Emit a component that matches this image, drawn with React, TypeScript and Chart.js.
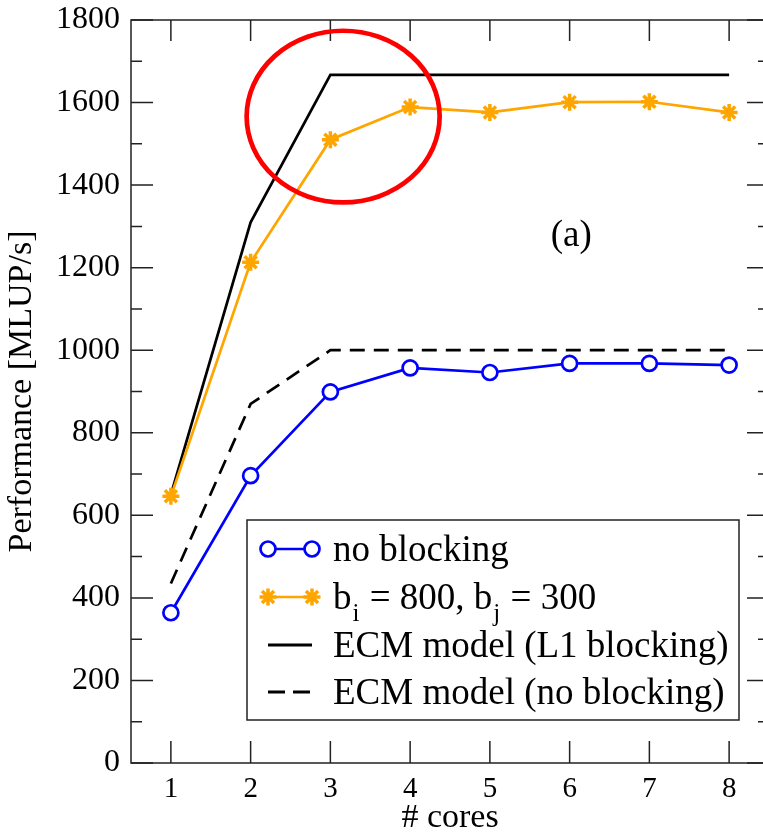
import React, { useEffect, useRef } from 'react';
import { Chart, registerables } from 'chart.js';

Chart.register(...registerables);

const cores = [1, 2, 3, 4, 5, 6, 7, 8];
const noBlocking = [364, 696, 899, 957, 946, 968, 968, 964];
const blocked = [646, 1213, 1510, 1589, 1576, 1601, 1602, 1576];
const ecmL1 = [650, 1310, 1667, 1667, 1667, 1667, 1667, 1667];
const ecmNoBlocking = [435, 870, 1000, 1000, 1000, 1000, 1000, 1000];
const yMajorTicks = [0, 200, 400, 600, 800, 1000, 1200, 1400, 1600, 1800];
const yMinorTicks = [100, 300, 500, 700, 900, 1100, 1300, 1500, 1700];
const seriesLabels = ['no blocking', 'b_i = 800, b_j = 300', 'ECM model (L1 blocking)', 'ECM model (no blocking)'];
const xTitle = '# cores';
const yTitle = 'Performance [MLUP/s]';
const panelLabel = '(a)';
const panelLabelAt = { x: 6.02, y: 1277 };
const highlight = { cx: 3.16, cy: 1566, rx: 1.21, ry: 208 };

const SERIF = '"Liberation Serif", "Times New Roman", serif';
const BLUE = '#0000ff';
const ORANGE = '#ffa500';
const BLACK = '#000000';
const AXIS = '#222222';

function drawStar(ctx: CanvasRenderingContext2D, x: number, y: number, r: number, color: string, w: number) {
  ctx.save();
  ctx.strokeStyle = color;
  ctx.lineWidth = w;
  ctx.beginPath();
  for (let i = 0; i < 4; i++) {
    const a = (i * Math.PI) / 4;
    ctx.moveTo(x - Math.cos(a) * r, y - Math.sin(a) * r);
    ctx.lineTo(x + Math.cos(a) * r, y + Math.sin(a) * r);
  }
  ctx.stroke();
  ctx.restore();
}

function drawCircle(ctx: CanvasRenderingContext2D, x: number, y: number, r: number, color: string, w: number) {
  ctx.save();
  ctx.fillStyle = '#ffffff';
  ctx.strokeStyle = color;
  ctx.lineWidth = w;
  ctx.beginPath();
  ctx.arc(x, y, r, 0, Math.PI * 2);
  ctx.fill();
  ctx.stroke();
  ctx.restore();
}

const decorPlugin = {
  id: 'decor',
  afterDraw(chart: any) {
    const { ctx, chartArea, scales } = chart;
    const xs = scales.x;
    const ys = scales.y;
    const { left, right, top, bottom } = chartArea;
    ctx.save();
    // frame
    ctx.strokeStyle = AXIS;
    ctx.lineWidth = 1.5;
    ctx.beginPath();
    ctx.rect(left, top, right - left, bottom - top);
    ctx.stroke();
    // inward ticks
    ctx.beginPath();
    yMajorTicks.forEach((v) => {
      const py = ys.getPixelForValue(v);
      ctx.moveTo(left, py); ctx.lineTo(left + 22, py);
      ctx.moveTo(right, py); ctx.lineTo(right - 22, py);
    });
    yMinorTicks.forEach((v) => {
      const py = ys.getPixelForValue(v);
      ctx.moveTo(left, py); ctx.lineTo(left + 11, py);
      ctx.moveTo(right, py); ctx.lineTo(right - 11, py);
    });
    cores.forEach((v) => {
      const px = xs.getPixelForValue(v);
      ctx.moveTo(px, bottom); ctx.lineTo(px, bottom - 22);
      ctx.moveTo(px, top); ctx.lineTo(px, top + 21);
    });
    ctx.stroke();

    // panel label
    ctx.fillStyle = BLACK;
    ctx.font = '37px ' + SERIF;
    ctx.textAlign = 'center';
    ctx.textBaseline = 'middle';
    ctx.fillText(panelLabel, xs.getPixelForValue(panelLabelAt.x), ys.getPixelForValue(panelLabelAt.y));

    // legend
    const bx = 247, by = 520, bw = 492, bh = 200;
    ctx.fillStyle = '#ffffff';
    ctx.fillRect(bx, by, bw, bh);
    ctx.strokeStyle = AXIS;
    ctx.lineWidth = 1.5;
    ctx.strokeRect(bx, by, bw, bh);
    const rows = [549, 597, 645, 692];
    const sx0 = 268, sx1 = 312, tx = 333;
    // row 1
    ctx.strokeStyle = BLUE; ctx.lineWidth = 2.7; ctx.setLineDash([]);
    ctx.beginPath(); ctx.moveTo(sx0, rows[0]); ctx.lineTo(sx1, rows[0]); ctx.stroke();
    drawCircle(ctx, sx0, rows[0], 7.5, BLUE, 2.7);
    drawCircle(ctx, sx1, rows[0], 7.5, BLUE, 2.7);
    // row 2
    ctx.strokeStyle = ORANGE; ctx.lineWidth = 2.7;
    ctx.beginPath(); ctx.moveTo(sx0, rows[1]); ctx.lineTo(sx1, rows[1]); ctx.stroke();
    drawStar(ctx, sx0, rows[1], 8.5, ORANGE, 3.5);
    drawStar(ctx, sx1, rows[1], 8.5, ORANGE, 3.5);
    // row 3
    ctx.strokeStyle = BLACK; ctx.lineWidth = 3;
    ctx.beginPath(); ctx.moveTo(sx0, rows[2]); ctx.lineTo(sx1, rows[2]); ctx.stroke();
    // row 4
    ctx.setLineDash([17, 8]);
    ctx.beginPath(); ctx.moveTo(sx0, rows[3]); ctx.lineTo(sx1, rows[3]); ctx.stroke();
    ctx.setLineDash([]);

    ctx.fillStyle = BLACK;
    ctx.textAlign = 'left';
    ctx.textBaseline = 'alphabetic';
    const big = '37px ' + SERIF;
    const small = '25px ' + SERIF;
    const base = 12;
    ctx.font = big;
    ctx.fillText(seriesLabels[0], tx, rows[0] + base);
    // row 2 with subscripts
    const parts = seriesLabels[1].split(/_(\w)/);
    let cx = tx;
    parts.forEach((p, i) => {
      if (i % 2 === 1) {
        ctx.font = small;
        ctx.fillText(p, cx + 1, rows[1] + base + 12);
        cx += ctx.measureText(p).width + 2;
      } else {
        ctx.font = big;
        ctx.fillText(p, cx, rows[1] + base);
        cx += ctx.measureText(p).width;
      }
    });
    ctx.font = big;
    ctx.fillText(seriesLabels[2], tx, rows[2] + base);
    ctx.fillText(seriesLabels[3], tx, rows[3] + base);

    // red highlight ellipse
    const ecx = xs.getPixelForValue(highlight.cx);
    const ecy = ys.getPixelForValue(highlight.cy);
    const erx = Math.abs(xs.getPixelForValue(highlight.cx + highlight.rx) - ecx);
    const ery = Math.abs(ys.getPixelForValue(highlight.cy + highlight.ry) - ecy);
    ctx.strokeStyle = '#ff0000';
    ctx.lineWidth = 4.7;
    ctx.beginPath();
    ctx.ellipse(ecx, ecy, erx, ery, 0, 0, Math.PI * 2);
    ctx.stroke();
    ctx.restore();
  },
};

export default function App() {
  const ref = useRef<HTMLCanvasElement | null>(null);
  useEffect(() => {
    if (!ref.current) return;
    const pts = (arr: number[]) => cores.map((c, i) => ({ x: c, y: arr[i] }));
    const chart = new Chart(ref.current, {
      type: 'line',
      data: {
        datasets: [
          {
            label: seriesLabels[0],
            data: pts(noBlocking),
            borderColor: BLUE,
            backgroundColor: '#ffffff',
            borderWidth: 2.7,
            pointRadius: 7.5,
            pointBorderWidth: 2.7,
            pointBackgroundColor: '#ffffff',
            pointBorderColor: BLUE,
            tension: 0,
          },
          {
            label: seriesLabels[1],
            data: pts(blocked),
            borderColor: ORANGE,
            backgroundColor: ORANGE,
            borderWidth: 2.7,
            pointStyle: 'star',
            pointRadius: 8.5,
            pointBorderWidth: 3.5,
            pointBorderColor: ORANGE,
            tension: 0,
          },
          {
            label: seriesLabels[2],
            data: pts(ecmL1),
            borderColor: BLACK,
            borderWidth: 2.7,
            pointRadius: 0,
            tension: 0,
          },
          {
            label: seriesLabels[3],
            data: pts(ecmNoBlocking),
            borderColor: BLACK,
            borderWidth: 2.7,
            borderDash: [15, 9],
            pointRadius: 0,
            tension: 0,
          },
        ],
      },
      options: {
        responsive: false,
        animation: false,
        events: [],
        layout: { padding: { top: 20, left: 0, right: 0, bottom: 0 } },
        plugins: { legend: { display: false }, tooltip: { enabled: false } },
        scales: {
          x: {
            type: 'linear',
            min: 0.5,
            max: 8.5,
            afterBuildTicks: (s: any) => { s.ticks = cores.map((v) => ({ value: v })); },
            afterFit: (s: any) => { s.height = 70; s.paddingLeft = 0; s.paddingRight = 0; },
            grid: { display: false, drawTicks: false },
            border: { display: false },
            ticks: {
              color: BLACK,
              padding: 9,
              maxRotation: 0,
              autoSkip: false,
              font: { family: SERIF, size: 29 },
              callback: (v: any) => String(v),
            },
            title: {
              display: true,
              text: xTitle,
              color: BLACK,
              font: { family: SERIF, size: 34, lineHeight: 0.9 },
              padding: { top: 0, bottom: 0 },
            },
          },
          y: {
            type: 'linear',
            min: 0,
            max: 1800,
            afterBuildTicks: (s: any) => { s.ticks = yMajorTicks.map((v) => ({ value: v })); },
            afterFit: (s: any) => { s.width = 131; s.paddingTop = 0; s.paddingBottom = 0; },
            grid: { display: false, drawTicks: false },
            border: { display: false },
            ticks: {
              color: BLACK,
              padding: 11,
              autoSkip: false,
              font: { family: SERIF, size: 32 },
              callback: (v: any) => String(v),
            },
            title: {
              display: true,
              text: yTitle,
              color: BLACK,
              font: { family: SERIF, size: 34, lineHeight: 1.2 },
              padding: { top: 2, bottom: 0 },
            },
          },
        },
      },
      plugins: [decorPlugin],
    } as any);
    return () => chart.destroy();
  }, []);
  return (
    <div style={{ position: 'fixed', left: 0, top: 0, width: 763, height: 833, overflow: 'hidden', background: '#ffffff' }}>
      <canvas ref={ref} width={781} height={833} style={{ display: 'block' }} />
    </div>
  );
}
